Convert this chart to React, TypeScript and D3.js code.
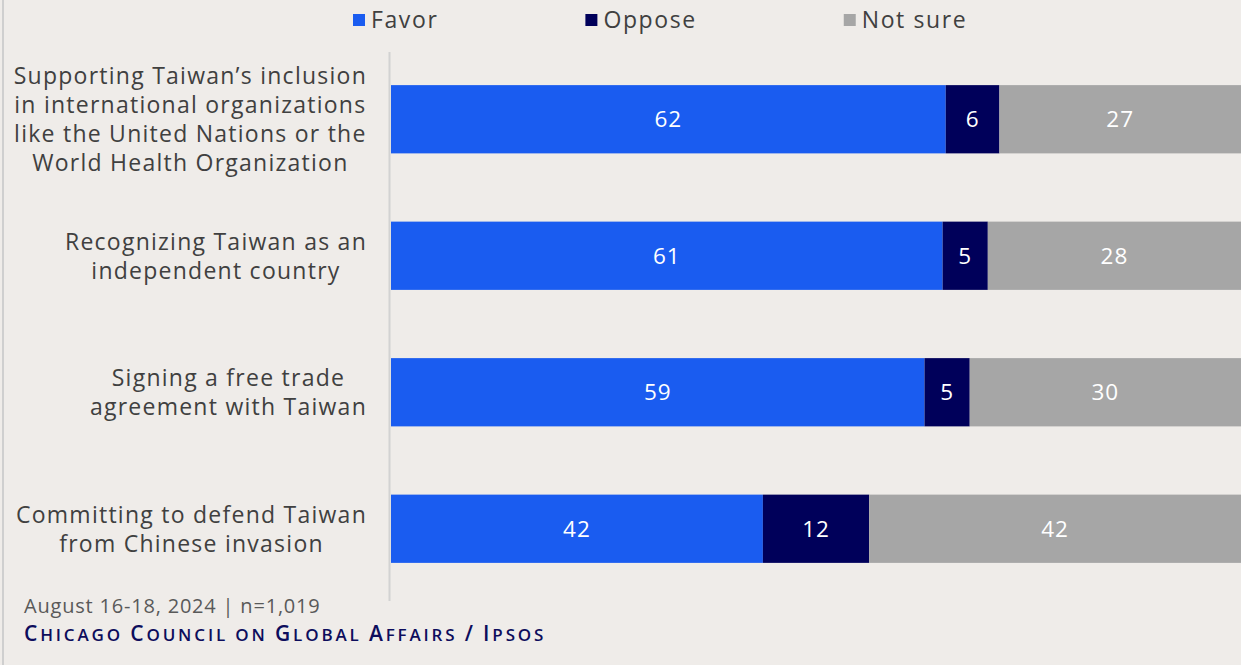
import React, { useEffect, useRef } from 'react';
import * as d3 from 'd3';

const categoryLines: string[][] = [
  ["Supporting Taiwan\u2019s inclusion", "in international organizations", "like the United Nations or the", "World Health Organization"],
  ["Recognizing Taiwan as an", "independent country"],
  ["Signing a free trade", "agreement with Taiwan"],
  ["Committing to defend Taiwan", "from Chinese invasion"],
];
const categoryKeys = ["inclusion", "recognize", "trade", "defend"];
const favor = [62, 61, 59, 42];
const oppose = [6, 5, 5, 12];
const notSure = [27, 28, 30, 42];
const seriesNames = ["Favor", "Oppose", "Not sure"];
const seriesColors = ["#1a5cf0", "#00005a", "#a6a6a6"];
const sourceNote = "August 16-18, 2024 | n=1,019";
const sourceLine = "Chicago Council on Global Affairs / Ipsos";

const W = 1241;
const H = 665;
const FONT = "'Open Sans', sans-serif";
const TEXT = "#404040";
const BG = "#efece9";

export default function App() {
  const ref = useRef<SVGSVGElement | null>(null);

  useEffect(() => {
    const svg = d3.select(ref.current);
    svg.selectAll("*").remove();

    svg.append("rect").attr("width", W).attr("height", H).attr("fill", BG);
    svg.append("line").attr("x1", 3).attr("x2", 3).attr("y1", 0).attr("y2", H)
      .attr("stroke", "#cfcfcf").attr("stroke-width", 2);

    const rows = categoryKeys.map((k, i) => ({
      key: k,
      [seriesNames[0]]: favor[i],
      [seriesNames[1]]: oppose[i],
      [seriesNames[2]]: notSure[i],
    }));

    const stack = d3.stack<any>().keys(seriesNames).offset(d3.stackOffsetExpand);
    const series = stack(rows);

    const x = d3.scaleLinear().domain([0, 1]).range([391, W]);
    const y = d3.scaleBand().domain(categoryKeys).range([51, 597]).paddingInner(0.5).paddingOuter(0.25);
    const color = d3.scaleOrdinal<string, string>().domain(seriesNames).range(seriesColors);

    // axis line
    svg.append("line").attr("x1", 389.5).attr("x2", 389.5).attr("y1", 52).attr("y2", 601)
      .attr("stroke", "#d2d2d2").attr("stroke-width", 2);

    const g = svg.append("g");
    series.forEach((s) => {
      const sg = g.append("g").attr("fill", color(s.key));
      sg.selectAll("rect").data(s).join("rect")
        .attr("x", (d: any) => x(d[0]))
        .attr("y", (d: any) => y(d.data.key)!)
        .attr("width", (d: any) => x(d[1]) - x(d[0]))
        .attr("height", y.bandwidth());
      sg.selectAll("text").data(s).join("text")
        .attr("x", (d: any) => (x(d[0]) + x(d[1])) / 2)
        .attr("y", (d: any) => y(d.data.key)! + y.bandwidth() / 2)
        .attr("dy", "0.36em")
        .attr("text-anchor", "middle")
        .attr("fill", "#ffffff")
        .attr("font-family", FONT)
        .attr("font-size", 22.5)
        .attr("letter-spacing", 1)
        .text((d: any) => d.data[s.key]);
    });

    // category labels
    const lineH = 29;
    categoryKeys.forEach((k, i) => {
      const lines = categoryLines[i];
      const cy = y(k)! + y.bandwidth() / 2;
      const lg = svg.append("g");
      const texts = lines.map((ln, j) =>
        lg.append("text")
          .attr("y", cy + (j - (lines.length - 1) / 2) * lineH)
          .attr("dy", "0.36em")
          .attr("text-anchor", "middle")
          .attr("fill", TEXT)
          .attr("font-family", FONT)
          .attr("font-size", 23)
          .attr("letter-spacing", 1.25)
          .text(ln)
      );
      const maxW = d3.max(texts, (t) => (t.node() as SVGTextElement).getComputedTextLength()) || 0;
      texts.forEach((t) => t.attr("x", 367 - maxW / 2));
    });

    // legend
    let lx = 353;
    seriesNames.forEach((name) => {
      svg.append("rect").attr("x", lx).attr("y", 14).attr("width", 12).attr("height", 12)
        .attr("fill", color(name));
      const t = svg.append("text").attr("x", lx + 18).attr("y", 20).attr("dy", "0.36em")
        .attr("fill", TEXT).attr("font-family", FONT).attr("font-size", 23)
        .attr("letter-spacing", 1.6).text(name);
      const tw = (t.node() as SVGTextElement).getComputedTextLength();
      lx = lx + 18 + tw + 147;
    });

    // footer
    svg.append("text").attr("x", 24).attr("y", 613)
      .attr("fill", "#595959").attr("font-family", FONT).attr("font-size", 20)
      .attr("letter-spacing", 0.8).text(sourceNote);

    const st = svg.append("text").attr("x", 24).attr("y", 641)
      .attr("fill", "#0d0d5c").attr("font-family", FONT).attr("font-weight", 600)
      .attr("letter-spacing", 2.85);
    // small caps
    const runs: { txt: string; big: boolean }[] = [];
    for (const ch of sourceLine) {
      const isBig = /[A-Z\/]/.test(ch);
      const last = runs[runs.length - 1];
      if (last && last.big === isBig) last.txt += ch.toUpperCase();
      else runs.push({ txt: ch.toUpperCase(), big: isBig });
    }
    runs.forEach((r) => {
      st.append("tspan").attr("font-size", r.big ? 21 : 17).text(r.txt);
    });
  }, []);

  return (
    <svg ref={ref} width={W} height={H} style={{ position: 'absolute', left: 0, top: 0, display: 'block' }} />
  );
}
